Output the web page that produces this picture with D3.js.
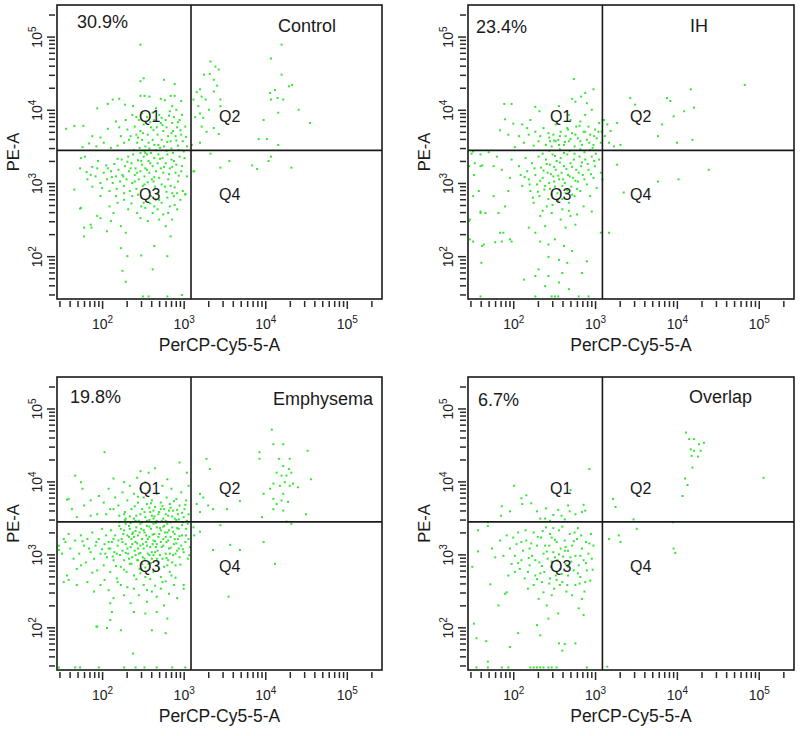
<!DOCTYPE html>
<html>
<head>
<meta charset="utf-8">
<script src="https://cdn.jsdelivr.net/npm/d3@7"></script>
<style>
  body { margin: 0; background: #fff; }
  svg { display: block; font-family: "Liberation Sans", Arial, sans-serif; }
</style>
</head>
<body>
<svg width="800" height="736"></svg>
<script>
var panelNames = ["Control", "IH", "Emphysema", "Overlap"];
var percentLabels = ["30.9%", "23.4%", "19.8%", "6.7%"];
var quadrantNames = ["Q1", "Q2", "Q3", "Q4"];
var xTitle = "PerCP-Cy5-5-A", yTitle = "PE-A";
var xDomain = [28, 270000];
var yDomain = [26, 270000];
var quadrantGate = [1230, 2790];
var majorTicks = [100, 1000, 10000, 100000];

// events as [log10 PerCP-Cy5-5-A, log10 PE-A]
var controlEvents = [
  [2.47,4.89],[2.51,4.43],[2.47,4.39],[2.76,4.41],[2.89,4.35],[2.47,4.19],[2.52,4.19],[2.58,4.18],[2.72,4.15],[2.77,4.13],[2.84,4.19],[2.89,4.19],[2.97,4.12],[2.13,4.14],[2.21,4.15],[2.07,4.08],[1.94,4.02],[2.28,4.07],[2.38,4.05],[2.86,4.05],
  [1.56,3.74],[1.66,3.78],[1.77,3.78],[1.88,3.64],[1.84,3.54],[1.93,3.50],[1.98,3.62],[2.07,3.74],[2.17,3.84],[2.21,3.76],[2.11,3.48],[2.19,3.51],[2.29,3.86],[2.31,3.73],[2.33,3.59],[2.37,3.93],[2.40,3.77],[2.42,3.66],[2.43,3.55],[2.45,3.86],[2.47,3.71],[2.49,3.59],[2.51,3.80],[2.53,3.50],[2.55,3.90],[2.56,3.66],[2.60,3.76],[2.62,3.59],[2.64,3.86],[2.64,3.52],[2.67,3.76],[2.68,3.66],[2.70,3.93],[2.72,3.82],[2.73,3.59],[2.75,3.71],[2.76,3.50],[2.78,3.86],[2.79,3.76],[2.81,3.64],[2.83,3.98],[2.84,3.57],[2.86,3.82],[2.87,3.71],[2.88,3.90],[2.90,3.64],[2.91,4.00],[2.92,3.76],[2.93,3.51],[2.95,3.86],[2.97,3.66],[2.98,3.93],[2.99,3.57],[3.02,3.77],[3.04,3.50],[2.66,4.02],[2.62,3.96],[2.49,3.95],[2.42,3.90],[2.35,3.64],[2.27,3.55],[2.23,3.64],[2.02,3.55],[1.76,3.49],
  [2.39,3.45],[2.46,3.48],[2.52,3.44],[2.58,3.47],[2.66,3.45],[2.71,3.48],[2.79,3.44],[2.85,3.47],[2.94,3.45],[3.00,3.43],[2.44,3.62],[2.50,3.68],[2.57,3.55],[2.63,3.72],[2.69,3.52],[2.74,3.79],[2.80,3.56],[2.85,3.68],[2.91,3.58],[2.96,3.72],[3.03,3.63],[2.59,3.83],[2.73,3.89],[2.82,3.92],[2.93,3.83],
  [1.74,3.34],[1.79,3.36],[1.66,2.91],[1.73,3.20],[1.82,3.05],[1.86,3.11],[1.88,2.95],[1.92,3.09],[1.94,3.20],[1.98,3.00],[2.00,2.93],[2.02,3.14],[2.05,3.24],[2.06,3.05],[2.09,2.89],[2.11,3.16],[2.13,3.00],[2.15,3.26],[2.17,3.09],[2.18,2.92],[2.20,3.18],[2.22,3.02],[2.24,3.32],[2.25,3.11],[2.27,2.96],[2.28,3.23],[2.30,3.05],[2.32,3.36],[2.33,3.16],[2.34,2.89],[2.36,3.27],[2.37,3.00],[2.38,3.39],[2.40,3.11],[2.41,3.20],[2.42,2.92],[2.44,3.31],[2.45,3.05],[2.47,3.41],[2.47,3.16],[2.49,3.25],[2.50,2.96],[2.51,3.36],[2.52,3.09],[2.53,3.20],[2.55,3.39],[2.56,3.01],[2.57,3.30],[2.58,3.14],[2.60,3.41],[2.61,3.05],[2.62,3.23],[2.64,3.34],[2.65,2.95],[2.66,3.16],[2.68,3.27],[2.69,3.39],[2.70,3.07],[2.72,3.20],[2.74,3.34],[2.75,3.14],[2.77,2.95],[2.78,3.27],[2.80,3.39],[2.81,3.05],[2.83,3.20],[2.85,3.32],[2.86,2.86],[2.87,3.41],[2.90,3.14],[2.91,3.25],[2.93,3.02],[2.95,3.36],[2.97,3.16],[2.99,2.89],[3.01,3.34],[3.04,3.09],[3.02,2.85],[3.13,3.16],[2.92,2.86],
  [2.35,3.20],[2.43,3.14],[2.48,3.30],[2.55,3.18],[2.59,3.27],[2.64,3.08],[2.71,3.33],[2.76,3.22],[2.82,3.12],[2.88,3.30],[2.94,3.10],[2.98,3.23],[2.40,3.02],[2.52,2.98],[2.63,3.02],[2.73,2.98],[2.84,2.96],[2.31,3.29],[2.26,3.09],[2.19,3.33],[2.12,3.08],[2.07,3.20],[1.95,3.30],[1.88,3.22],[1.81,3.15],[2.44,2.84],[2.58,2.88],[2.69,2.86],[2.79,2.88],[2.89,2.94],[2.53,3.41],[2.86,3.22],
  [1.74,2.66],[1.78,2.39],[1.86,2.43],[1.94,2.55],[1.98,2.82],[2.06,2.34],[2.09,2.68],[2.11,2.48],[2.14,2.59],[2.19,2.73],[2.23,2.41],[2.27,2.77],[2.29,2.32],[2.32,2.64],[2.37,2.82],[2.43,2.59],[2.47,2.52],[2.51,2.73],[2.53,2.66],[2.56,2.48],[2.60,2.82],[2.62,2.59],[2.64,2.68],[2.66,2.77],[2.68,2.64],[2.70,2.50],[2.73,2.73],[2.75,2.57],[2.78,2.41],[2.80,2.80],[2.83,2.68],[2.84,2.27],[2.86,2.50],[2.88,2.82],[2.92,2.64],[2.96,2.77],[3.02,2.84],[1.73,2.65],[1.78,2.27],[1.87,2.39],[1.98,2.52],
  [2.27,2.86],[2.17,2.82],[2.36,2.72],[2.48,2.68],[2.59,2.72],[2.70,2.77],[2.81,2.59],[2.89,2.70],
  [2.23,2.11],[2.31,2.00],[2.48,2.01],[2.64,2.14],[2.80,2.00],[2.25,1.80],[2.62,1.82],[2.29,1.65],[2.50,1.45],[2.57,1.45],[2.80,1.45],[2.98,1.47],
  [3.33,4.66],[3.39,4.59],[3.43,4.55],[3.25,4.48],[3.32,4.49],[3.37,4.41],[3.20,4.28],[3.16,4.24],[3.22,4.18],[3.27,4.14],[3.37,4.25],[3.41,4.33],[3.45,4.14],[3.18,4.05],[3.20,3.95],[3.24,3.89],[3.31,4.00],[3.22,3.77],[3.28,3.70],[3.12,4.14],[3.43,3.67],[3.37,3.75],[3.14,3.90],[3.20,3.55],[3.10,3.52],[4.20,4.89],[4.07,4.70],[4.20,4.48],[4.12,4.27],[4.06,4.23],[4.15,4.16],[4.22,4.14],[4.29,4.32],[4.33,4.34],[4.41,4.00],[3.98,3.86],[4.16,3.96],[4.55,3.82],[3.92,3.60],[4.02,3.60],[4.16,3.52],[4.07,4.14],[3.45,4.05],
  [3.12,3.16],[3.33,3.40],[3.45,3.21],[3.56,3.30],[3.84,3.24],[3.90,3.19],[4.04,3.30],[4.07,3.36],[4.32,3.21]
];

var ihEvents = [
  [2.74,4.42],[2.98,4.28],[2.88,4.23],[2.83,4.18],[2.72,4.15],[2.76,4.11],[1.89,4.08],[1.98,4.08],[2.27,4.04],[2.32,3.98],[1.90,3.87],[2.00,3.81],[2.11,3.80],[2.17,3.75],[2.21,3.86],[1.84,3.72],[1.94,3.66],[2.07,3.64],[2.19,3.66],[2.27,3.70],[2.33,3.64],[2.37,3.75],[2.43,3.68],[2.45,3.57],[2.49,3.66],[2.52,3.80],[2.55,3.59],[2.58,3.70],[2.62,3.52],[2.64,3.64],[2.66,3.75],[2.68,3.57],[2.70,3.86],[2.72,3.68],[2.75,3.50],[2.77,3.77],[2.79,3.61],[2.82,3.84],[2.84,3.52],[2.86,3.70],[2.88,3.93],[2.90,3.59],[2.92,3.77],[2.94,3.66],[2.96,4.00],[2.98,3.52],[3.00,3.73],[3.02,3.61],[3.05,3.82],[3.08,3.70],[3.09,3.86],[3.07,3.55],[2.52,3.57],[2.40,3.52],[2.47,3.50],[2.25,3.51],[2.13,3.55],[2.02,3.49],[2.90,4.09],[2.56,4.05],[2.68,3.93],[1.51,3.43],
  [2.50,3.58],[2.57,3.64],[2.63,3.56],[2.70,3.60],[2.76,3.66],[2.82,3.57],[2.88,3.70],[2.93,3.55],[2.99,3.64],[3.04,3.70],[2.81,3.78],[2.67,3.73],[2.44,3.62],[2.31,3.57],[2.56,3.52],[2.97,3.48],
  [1.49,3.40],[1.60,3.39],[1.70,3.42],[1.80,3.36],[1.46,3.23],[1.62,3.24],[1.76,3.23],[1.86,3.18],[1.58,2.89],[1.51,2.82],[1.66,2.59],[1.60,2.61],[1.47,2.50],[1.76,2.82],[1.82,2.59],[1.90,2.68],[1.94,2.89],[1.96,3.07],[1.98,3.32],[2.07,3.23],[2.09,3.11],[2.11,2.96],[2.15,3.34],[2.17,3.16],[2.19,3.05],[2.21,2.89],[2.23,3.27],[2.25,2.73],[2.27,3.11],[2.29,2.98],[2.31,3.36],[2.32,2.82],[2.34,3.21],[2.36,3.07],[2.38,2.91],[2.40,3.32],[2.41,2.68],[2.42,3.14],[2.44,3.00],[2.45,3.25],[2.47,2.84],[2.48,3.39],[2.49,3.09],[2.51,2.95],[2.52,3.18],[2.53,3.30],[2.55,2.77],[2.56,3.05],[2.56,2.91],[2.58,3.34],[2.59,3.14],[2.60,2.64],[2.62,3.23],[2.63,3.00],[2.64,2.86],[2.66,3.39],[2.67,3.11],[2.68,2.73],[2.70,3.27],[2.71,2.95],[2.73,3.07],[2.74,3.32],[2.75,2.82],[2.77,3.18],[2.78,2.57],[2.79,3.02],[2.81,3.36],[2.82,2.89],[2.83,3.23],[2.85,3.11],[2.86,2.68],[2.88,3.32],[2.90,2.98],[2.92,3.18],[2.94,2.82],[2.96,3.36],[2.98,3.07],[3.00,3.23],[3.02,2.93],[3.05,3.32],[3.07,3.14],[3.09,3.05],[2.96,2.61],[3.07,2.32],
  [2.36,3.40],[2.44,3.44],[2.51,3.37],[2.57,3.46],[2.62,3.41],[2.69,3.44],[2.75,3.40],[2.82,3.46],[2.87,3.42],[2.94,3.45],[3.01,3.40],[2.37,3.17],[2.41,3.26],[2.46,3.12],[2.50,3.22],[2.55,3.10],[2.57,3.28],[2.61,3.05],[2.65,3.19],[2.69,3.09],[2.72,3.22],[2.76,3.03],[2.80,3.14],[2.84,3.28],[2.87,3.05],[2.91,3.26],[2.95,3.12],[2.99,3.30],[2.33,3.03],[2.39,2.96],[2.45,2.92],[2.50,3.02],[2.54,2.86],[2.60,2.96],[2.66,2.90],[2.72,2.84],[2.78,2.92],[2.30,2.88],[2.26,3.20],[2.20,2.98],[2.14,3.08],[2.24,2.80],[2.43,2.78],[2.60,2.78],[2.48,2.70],[2.68,2.62],[2.36,2.62],
  [2.33,2.55],[2.47,2.59],[2.58,2.50],[2.70,2.55],[2.39,2.41],[2.64,2.39],[2.76,2.43],[2.19,2.39],[2.27,2.32],[1.88,2.32],[1.98,2.20],[1.86,2.20],[1.51,2.20],[1.64,2.16],[1.61,1.91],[2.33,2.20],[2.43,2.16],[2.51,2.23],[2.62,2.14],[2.72,2.07],[2.43,1.99],[2.56,1.95],[2.66,1.91],[2.90,1.93],[2.31,1.82],[2.27,1.73],[2.43,1.73],[2.60,1.77],[2.84,1.77],[2.13,1.68],[2.39,1.59],[2.56,1.64],[2.68,1.55],[2.47,1.45],[2.51,1.45],[2.55,1.45],[2.80,1.45],[2.92,1.45],[2.27,1.45],[1.60,1.45],
  [1.53,3.27],[1.60,3.23],[1.52,3.11],[1.46,2.48],[1.60,2.59],[1.47,2.23],[1.62,2.14],[1.78,2.19],[1.84,2.32],[1.96,2.23],
  [3.15,3.80],[3.11,3.86],[3.19,3.71],[3.27,3.82],[3.12,3.64],[3.17,3.55],[3.31,3.52],[3.43,4.16],[3.51,3.84],[3.49,4.07],[3.55,3.96],[3.77,3.64],[3.82,3.80],[3.88,4.16],[3.92,4.12],[3.96,3.91],[4.00,3.55],[4.09,3.98],[4.17,4.28],[4.19,3.59],[4.21,4.03],[4.83,4.34],[3.23,3.50],
  [3.27,3.25],[3.35,2.87],[3.17,2.32],[3.77,3.02],[4.02,3.05],[4.39,3.18]
];

var emphysemaEvents = [
  [2.03,4.40],[1.67,4.08],[1.74,3.99],[2.95,4.26],[2.65,4.18],[2.57,4.12],[2.47,4.14],[2.43,4.05],[2.14,4.04],[3.04,4.12],[3.06,3.94],[1.57,3.75],[1.76,3.90],[1.63,3.62],[1.78,3.67],[1.86,3.74],[1.96,3.80],[2.02,3.71],[2.08,3.90],[2.10,3.62],[2.16,3.78],[2.20,3.67],[2.25,3.85],[2.27,3.55],[2.31,3.74],[2.34,3.94],[2.36,3.62],[2.39,3.83],[2.42,3.53],[2.44,3.71],[2.47,3.90],[2.49,3.62],[2.51,3.78],[2.53,3.51],[2.55,3.69],[2.57,3.87],[2.59,3.58],[2.61,3.74],[2.63,3.49],[2.65,3.65],[2.67,3.83],[2.69,3.55],[2.72,3.71],[2.74,3.94],[2.75,3.49],[2.76,3.62],[2.79,3.78],[2.81,3.53],[2.83,3.69],[2.85,3.90],[2.87,3.60],[2.89,3.49],[2.91,3.76],[2.93,3.55],[2.95,3.67],[2.97,3.85],[3.00,3.51],[3.01,3.62],[3.03,3.74],[3.06,3.55],[1.94,3.55],[1.86,3.53],[1.69,3.51],[2.27,3.99],[2.53,3.99],[2.80,4.03],
  [2.29,3.49],[2.45,3.46],[2.61,3.53],[2.67,3.46],[2.78,3.46],[2.86,3.52],[2.94,3.48],[3.04,3.46],[2.55,3.46],[2.39,3.49],[2.72,3.62],[2.63,3.60],[2.82,3.60],[2.47,3.55],[1.59,3.76],
  [2.21,3.44],[2.28,3.47],[2.35,3.43],[2.41,3.46],[2.49,3.44],[2.58,3.47],[2.66,3.43],[2.73,3.46],[2.84,3.44],[2.91,3.47],[2.99,3.44],[3.05,3.42],[2.28,3.58],[2.34,3.52],[2.40,3.66],[2.52,3.58],[2.58,3.64],[2.64,3.52],[2.70,3.58],[2.78,3.55],[2.84,3.64],[2.92,3.61],[2.98,3.57],[2.44,3.79],[2.60,3.70],[2.74,3.66],[2.88,3.73],[3.02,3.68],[2.21,3.53],[2.14,3.62],[2.05,3.55],
  [1.47,3.12],[1.53,3.21],[1.59,3.28],[1.51,3.01],[1.61,3.08],[1.67,3.19],[1.65,2.94],[1.74,3.26],[1.72,3.01],[1.78,3.12],[1.80,2.89],[1.82,3.21],[1.86,3.03],[1.88,3.30],[1.90,2.94],[1.92,3.12],[1.94,2.78],[1.96,3.21],[1.98,3.01],[2.00,3.35],[2.02,2.85],[2.03,3.14],[2.05,3.26],[2.06,2.96],[2.08,3.08],[2.10,2.76],[2.11,3.33],[2.12,3.17],[2.14,2.92],[2.15,3.03],[2.16,3.26],[2.18,2.67],[2.19,3.12],[2.21,3.39],[2.22,2.99],[2.23,2.83],[2.24,3.21],[2.25,3.05],[2.27,3.33],[2.27,2.92],[2.29,3.14],[2.30,2.76],[2.31,3.26],[2.32,3.01],[2.33,3.39],[2.34,2.87],[2.35,3.10],[2.36,3.21],[2.37,2.96],[2.38,3.30],[2.39,2.71],[2.40,3.05],[2.41,3.17],[2.42,3.37],[2.43,2.92],[2.44,3.26],[2.45,3.01],[2.46,2.80],[2.47,3.12],[2.48,3.35],[2.49,3.21],[2.50,2.96],[2.51,3.08],[2.52,3.30],[2.53,2.69],[2.54,3.17],[2.55,3.39],[2.56,3.01],[2.57,2.87],[2.58,3.24],[2.59,3.10],[2.60,3.35],[2.61,2.94],[2.63,3.19],[2.63,2.76],[2.64,3.28],[2.65,3.03],[2.67,3.37],[2.67,3.14],[2.69,2.89],[2.69,3.24],[2.71,2.99],[2.72,3.33],[2.73,3.10],[2.74,2.62],[2.75,3.21],[2.76,2.83],[2.76,3.39],[2.78,3.01],[2.79,3.17],[2.80,3.30],[2.81,2.92],[2.82,3.08],[2.84,3.24],[2.85,2.71],[2.86,3.37],[2.87,2.99],[2.88,3.14],[2.89,3.28],[2.90,2.85],[2.92,3.05],[2.93,3.21],[2.94,3.35],[2.95,2.96],[2.97,3.12],[2.98,3.26],[3.00,2.58],[3.00,3.03],[3.02,3.17],[3.03,3.35],[3.05,2.94],[3.06,3.21],[3.08,3.10],[3.07,2.99],[3.13,3.26],[3.12,3.37],
  [2.31,3.08],[2.37,3.28],[2.44,3.08],[2.50,3.14],[2.52,2.94],[2.56,3.21],[2.61,3.03],[2.66,3.10],[2.70,3.28],[2.74,2.94],[2.78,3.24],[2.83,3.01],[2.89,3.21],[2.94,3.08],[2.37,3.14],[2.46,3.30],[2.54,3.26],[2.63,2.99],[2.72,3.17],[2.82,3.33],[2.90,3.01],[2.25,3.17],[2.18,3.01],[2.33,2.94],[2.41,2.99],[2.49,2.87],[2.67,2.94],[2.80,2.85],[2.10,3.08],[2.04,3.01],[2.14,3.21],[2.23,3.35],[2.29,3.42],[2.47,3.42],[2.63,3.42],[2.80,3.42],[2.98,3.40],
  [2.20,3.19],[2.26,3.28],[2.29,3.02],[2.34,3.35],[2.39,3.24],[2.43,3.15],[2.47,3.02],[2.51,3.33],[2.55,3.12],[2.58,2.99],[2.62,3.27],[2.65,3.18],[2.68,3.05],[2.71,3.36],[2.75,3.12],[2.77,3.30],[2.81,3.19],[2.84,3.09],[2.87,3.31],[2.91,3.15],[2.95,3.25],[2.99,3.07],[3.03,3.26],[2.36,2.87],[2.44,2.92],[2.53,2.82],[2.60,2.88],[2.70,2.80],[2.79,2.95],[2.86,2.89],[2.96,2.86],[2.13,2.97],[2.08,3.17],[2.00,3.07],[1.93,3.17],[1.84,3.08],[1.76,3.18],[2.17,2.84],[2.27,2.79],[2.47,2.74],[2.59,2.66],[2.72,2.69],[2.83,2.76],[2.41,3.32],[2.58,3.38],[2.75,3.38],[2.92,3.36],[2.33,3.24],[2.62,3.14],
  [1.57,2.71],[1.53,2.62],[1.69,2.58],[1.82,2.62],[1.90,2.49],[1.98,2.58],[2.08,2.51],[2.14,2.40],[2.23,2.58],[2.27,2.44],[2.35,2.33],[2.39,2.53],[2.45,2.44],[2.51,2.58],[2.55,2.35],[2.61,2.49],[2.67,2.42],[2.72,2.53],[2.76,2.30],[2.82,2.46],[2.88,2.58],[2.92,2.40],[3.00,2.53],[2.10,2.33],[2.39,2.21],[2.53,2.19],[2.67,2.21],[2.80,2.12],[2.10,2.10],[2.06,1.99],[1.94,2.01],[2.23,1.96],[2.61,1.96],[2.78,1.92],[2.38,1.64],
  [2.19,2.62],[2.31,2.55],[2.42,2.66],[2.55,2.51],[2.65,2.57],[2.78,2.63],[2.90,2.68],[2.03,2.65],[1.88,2.75],[1.74,2.85],
  [1.47,3.06],[1.55,3.17],[1.59,2.65],[1.69,2.80],[1.93,2.01],[2.12,2.21],
  [1.47,1.45],[1.67,1.45],[1.73,1.45],[1.96,1.45],[2.27,1.45],[2.41,1.45],[2.52,1.45],[2.67,1.45],[2.86,1.45],[3.02,1.45],
  [3.28,4.31],[3.32,4.17],[3.20,3.83],[3.24,3.78],[3.16,3.69],[3.20,3.58],[3.30,3.67],[3.36,3.62],[3.53,3.62],[3.69,3.73],[3.93,4.40],[3.93,4.31],[4.08,4.71],[4.10,4.51],[4.22,4.51],[4.17,4.31],[4.22,4.21],[4.30,4.31],[4.29,4.17],[4.14,4.12],[4.20,4.08],[4.26,4.08],[4.32,4.12],[4.24,3.99],[4.10,3.97],[4.18,3.94],[4.30,3.94],[4.34,3.97],[4.40,3.92],[4.06,3.90],[4.22,3.83],[3.98,3.83],[4.10,3.76],[4.20,3.74],[4.14,3.69],[4.28,3.72],[4.10,3.62],[4.22,3.60],[4.52,4.42],[4.56,4.03],[4.50,3.55],[4.26,3.45],[4.32,3.42],[3.96,3.51],
  [3.20,3.31],[3.36,3.06],[3.57,3.13],[3.69,3.06],[3.98,3.17],[4.12,2.87],[3.55,2.42],[3.45,3.40]
];

var overlapEvents = [
  [2.01,3.94],[2.16,3.81],[2.10,3.77],[2.22,3.70],[2.11,3.69],[1.86,3.66],[1.96,3.59],[1.85,3.53],[2.29,3.59],[2.40,3.63],[2.49,3.54],[2.55,3.61],[2.59,3.53],[2.67,3.67],[2.69,3.59],[2.76,3.55],[2.86,3.68],[2.88,3.60],[2.84,3.58],[2.33,3.49],[2.39,3.49],[2.45,3.46],[2.63,3.48],[1.69,3.44],[2.93,4.17],[2.70,3.88],
  [1.57,3.33],[1.69,3.39],[1.50,2.83],[1.57,3.04],[1.74,3.08],[1.78,2.96],[1.72,2.59],[1.52,2.05],[1.67,1.81],[1.55,1.85],[1.82,2.30],[1.90,2.46],[1.84,3.19],[1.92,3.26],[1.88,2.98],[1.96,3.08],[1.98,2.87],[1.94,2.71],[2.02,2.98],[2.04,3.14],[2.06,3.30],[2.08,2.80],[2.10,2.92],[2.12,3.05],[2.14,2.67],[2.16,3.19],[2.18,2.53],[2.20,2.85],[2.23,2.98],[2.25,3.30],[2.27,2.71],[2.29,3.12],[2.31,2.39],[2.32,2.89],[2.34,3.23],[2.35,2.62],[2.37,3.01],[2.38,2.76],[2.40,3.37],[2.41,2.30],[2.42,2.94],[2.44,3.12],[2.45,2.67],[2.46,2.83],[2.47,3.23],[2.49,3.03],[2.50,2.53],[2.52,2.71],[2.53,3.17],[2.54,2.92],[2.56,3.33],[2.57,2.80],[2.58,3.08],[2.60,2.62],[2.61,2.97],[2.63,3.19],[2.64,2.87],[2.65,2.49],[2.67,2.71],[2.67,3.05],[2.69,3.28],[2.71,2.90],[2.72,3.12],[2.74,2.78],[2.76,2.98],[2.76,2.58],[2.78,3.21],[2.80,2.85],[2.82,2.69],[2.84,3.08],[2.86,2.92],[2.87,2.49],[2.89,3.17],[2.90,2.78],[2.92,3.01],[2.94,2.64],[2.96,2.94],[2.98,3.12],[2.95,3.28],[2.84,2.39],[2.80,2.26],[2.86,2.17],[2.55,2.19],[2.43,2.12],[2.29,2.03],[2.33,1.89],[2.06,1.92],[1.96,1.73],[2.56,1.78],[2.63,1.77],[2.76,1.78],[2.60,1.68],[1.69,1.53],[1.92,2.48],
  [2.00,3.23],[2.20,3.08],[2.27,2.92],[2.33,2.74],[2.39,3.12],[2.45,3.28],[2.51,2.96],[2.57,2.58],[2.63,3.05],[2.67,2.83],[2.75,3.30],[2.82,2.98],[2.88,2.62],[2.18,2.76],[2.10,3.17],[2.02,2.76],[2.47,2.44],[2.72,2.44],[2.37,2.48],[2.25,2.58],
  [2.22,3.15],[2.30,3.24],[2.35,2.84],[2.41,3.04],[2.47,2.90],[2.51,3.20],[2.56,3.00],[2.59,2.73],[2.64,3.10],[2.70,2.96],[2.74,3.18],[2.79,2.74],[2.83,3.26],[2.89,2.88],[2.93,3.15],[2.44,2.60],[2.53,2.65],[2.66,2.58],[2.81,2.60],[2.36,3.32],[2.60,3.38],[2.79,3.36],[2.19,2.95],[2.29,2.66],[2.15,3.33],[2.06,2.88],[2.49,3.36],[2.97,2.79],
  [1.55,1.45],[1.69,1.45],[1.86,1.45],[1.94,1.45],[2.21,1.45],[2.25,1.45],[2.29,1.45],[2.33,1.45],[2.37,1.45],[2.43,1.45],[2.47,1.45],[2.53,1.45],[2.90,1.45],[3.15,1.46],
  [3.22,3.76],[3.25,3.65],[3.47,3.48],[4.11,4.67],[4.15,4.58],[4.21,4.58],[4.17,4.44],[4.21,4.42],[4.27,4.51],[4.33,4.53],[4.29,4.42],[4.18,4.35],[4.26,4.34],[4.19,4.19],[4.10,4.04],[4.13,3.95],[4.07,3.80],[5.06,4.05],[3.95,3.44],
  [3.17,3.21],[3.29,3.26],[3.31,3.17],[3.51,3.35],[3.96,3.08],[3.98,3.02]
];

var panelEvents = [controlEvents, ihEvents, emphysemaEvents, overlapEvents];

// frame placement and label offsets (pixels, relative to each frame)
var layout = [
  {left: 57,  top: 5,   w: 325, h: 294, pct: [20, 23], name: [221, 27]},
  {left: 468, top: 5,   w: 326, h: 294, pct: [8, 28],  name: [222, 27]},
  {left: 57,  top: 377, w: 325, h: 293, pct: [13, 26], name: [216, 28]},
  {left: 468, top: 377, w: 326, h: 293, pct: [10, 29], name: [221, 26]}
];
var qPos = [[82, 117], [162, 117], [82, 195], [162, 195]];

var svg = d3.select("svg");

function logTicks(domain) {
  var out = [];
  for (var e = 1; e <= 5; e++) {
    for (var m = 1; m <= 9; m++) {
      var v = m * Math.pow(10, e);
      if (v >= domain[0] && v <= domain[1]) out.push(v);
    }
  }
  return out;
}

function powerLabel(sel) {
  sel.each(function(d) {
    var t = d3.select(this).text("10");
    t.append("tspan")
      .attr("dy", "-0.6em")
      .attr("font-size", "10px")
      .text(Math.round(Math.log10(d)));
  });
}

function styleAxis(g) {
  g.attr("font-size", 14).attr("font-family", null);
  g.select(".domain").remove();
  g.selectAll(".tick line").attr("stroke", "#2a2a2a").attr("stroke-width", 1.5);
  g.selectAll(".tick text").attr("fill", "#222");
}

function drawPanel(cfg, i) {
  var g = svg.append("g")
      .attr("transform", "translate(" + cfg.left + "," + cfg.top + ")");

  var x = d3.scaleLog().domain(xDomain).range([0, cfg.w]);
  var y = d3.scaleLog().domain(yDomain).range([cfg.h, 0]);

  var xMinor = logTicks(xDomain).filter(function(v) { return majorTicks.indexOf(v) < 0; });
  var yMinor = logTicks(yDomain).filter(function(v) { return majorTicks.indexOf(v) < 0; });

  // events
  g.append("g").selectAll("rect")
      .data(panelEvents[i])
    .enter().append("rect")
      .attr("x", function(d) { return x(Math.pow(10, d[0])) - 1; })
      .attr("y", function(d) { return y(Math.pow(10, d[1])) - 1; })
      .attr("width", 2)
      .attr("height", 2)
      .attr("fill", "#33e633");

  // quadrant gate
  g.append("line")
      .attr("x1", x(quadrantGate[0])).attr("x2", x(quadrantGate[0]))
      .attr("y1", 0).attr("y2", cfg.h)
      .attr("stroke", "#1a1a1a").attr("stroke-width", 1.6);
  g.append("line")
      .attr("x1", 0).attr("x2", cfg.w)
      .attr("y1", y(quadrantGate[1])).attr("y2", y(quadrantGate[1]))
      .attr("stroke", "#1a1a1a").attr("stroke-width", 1.6);

  g.append("rect")
      .attr("width", cfg.w).attr("height", cfg.h)
      .attr("fill", "none")
      .attr("stroke", "#1a1a1a").attr("stroke-width", 1.6);

  // x axis
  g.append("g")
      .attr("transform", "translate(0," + (cfg.h + 2) + ")")
      .call(d3.axisBottom(x).tickValues(xMinor).tickSize(6).tickFormat(""))
      .call(styleAxis);
  var xa = g.append("g")
      .attr("transform", "translate(0," + (cfg.h + 2) + ")")
      .call(d3.axisBottom(x).tickValues(majorTicks).tickSize(8))
      .call(styleAxis);
  xa.selectAll(".tick text").attr("y", 28).attr("dy", null).call(powerLabel);

  // y axis
  g.append("g")
      .attr("transform", "translate(-2,0)")
      .call(d3.axisLeft(y).tickValues(yMinor).tickSize(6).tickFormat(""))
      .call(styleAxis);
  var ya = g.append("g")
      .attr("transform", "translate(-2,0)")
      .call(d3.axisLeft(y).tickValues(majorTicks).tickSize(8))
      .call(styleAxis);
  ya.selectAll(".tick text")
      .attr("x", null).attr("dy", null)
      .attr("text-anchor", "middle")
      .attr("transform", "translate(-13,0) rotate(-90)")
      .call(powerLabel);

  // titles
  g.append("text")
      .attr("x", cfg.w / 2).attr("y", cfg.h + 52)
      .attr("text-anchor", "middle")
      .attr("font-size", "17.5px").attr("fill", "#1a1a1a")
      .text(xTitle);
  g.append("text")
      .attr("transform", "translate(-38," + (cfg.h / 2) + ") rotate(-90)")
      .attr("text-anchor", "middle")
      .attr("font-size", "16.5px").attr("fill", "#1a1a1a")
      .text(yTitle);

  g.append("text")
      .attr("x", cfg.pct[0]).attr("y", cfg.pct[1])
      .attr("font-size", "18px").attr("fill", "#1a1a1a")
      .text(percentLabels[i]);
  g.append("text")
      .attr("x", cfg.name[0]).attr("y", cfg.name[1])
      .attr("font-size", "18px").attr("fill", "#1a1a1a")
      .text(panelNames[i]);

  g.selectAll(".qlabel")
      .data(quadrantNames)
    .enter().append("text")
      .attr("class", "qlabel")
      .attr("x", function(d, k) { return qPos[k][0]; })
      .attr("y", function(d, k) { return qPos[k][1]; })
      .attr("font-size", "16px").attr("fill", "#1a1a1a")
      .text(function(d) { return d; });
}

layout.forEach(drawPanel);
</script>
</body>
</html>
